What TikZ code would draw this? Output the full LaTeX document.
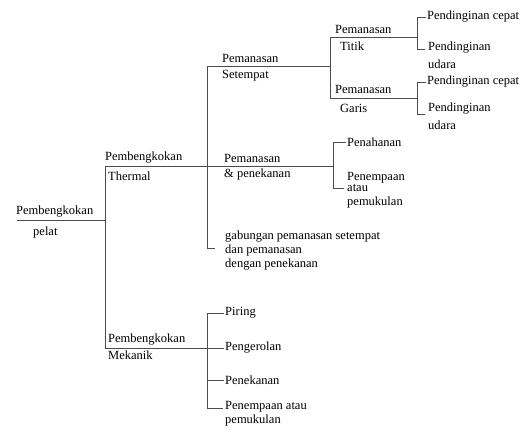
\documentclass[tikz,border=0pt]{standalone}
\usepackage{fontspec}
\setmainfont{Liberation Serif}
\usepackage{tikz}
\usetikzlibrary{positioning}

\begin{document}
\begin{tikzpicture}[
  x=1pt, y=-1pt,
  lab/.style={anchor=west, inner sep=1pt, align=left, font=\rmfamily\fontsize{12.5}{14}\selectfont},
  ln/.style={draw=black!70, line width=0.7pt}
]
  \useasboundingbox[fill=white] (0,0) rectangle (522,434);

  \node[lab] (rootA) at (15,212) {Pembengkokan};
  \node[lab] (rootB) at (32,232) {pelat};
  \node[lab] (thermA) at (104,158) {Pembengkokan};
  \node[lab] (thermB) at (107,176) {Thermal};
  \node[lab] (mekA) at (107,340) {Pembengkokan};
  \node[lab] (mekB) at (107,355) {Mekanik};

  \node[lab] (setA) at (221,58) {Pemanasan};
  \node[lab] (setB) at (221,76) {Setempat};
  \node[lab] (tekA) at (223,158) {Pemanasan};
  \node[lab] (tekB) at (223,174) {\& penekanan};
  \node[lab] (gabung) at (224,251) {gabungan pemanasan setempat\\dan pemanasan\\dengan penekanan};

  \node[lab] (titA) at (334,29) {Pemanasan};
  \node[lab] (titB) at (339,46) {Titik};
  \node[lab] (garA) at (334,89) {Pemanasan};
  \node[lab] (garB) at (339,108) {Garis};

  \node[lab] (cep1) at (426,17) {Pendinginan cepat};
  \node[lab] (uda1) at (427,55) {Pendinginan\\[4pt]udara};
  \node[lab] (cep2) at (426,82) {Pendinginan cepat};
  \node[lab] (uda2) at (427,116) {Pendinginan\\[4pt]udara};

  \node[lab] (tahan) at (346,142) {Penahanan};
  \node[lab] (tempa1) at (346,190) {Penempaan\\[-3pt]atau\\pemukulan};

  \node[lab] (piring) at (224,313) {Piring};
  \node[lab] (rol) at (224,348) {Pengerolan};
  \node[lab] (tekan) at (224,380) {Penekanan};
  \node[lab] (tempa2) at (224,414) {Penempaan atau\\pemukulan};

  \coordinate (r0) at (17,220);
  \coordinate (r1) at (105,220);
  \coordinate (t0) at (105,166);
  \coordinate (m0) at (105,348);
  \coordinate (s0) at (207,66);
  \coordinate (s1) at (330,66);
  \coordinate (g0) at (207,248);
  \coordinate (g1) at (215,248);
  \coordinate (k1) at (333,166);
  \coordinate (k3) at (344,188);
  \coordinate (ti0) at (330,37);
  \coordinate (ti1) at (417,37);
  \coordinate (ga0) at (330,98);
  \coordinate (ga1) at (417,98);
  \coordinate (u1) at (425,49);
  \coordinate (u2) at (425,114);
  \coordinate (m1) at (207,348);
  \coordinate (p4) at (223,408);

  \draw[ln] (r0) -- (r1);
  \draw[ln] (t0) -- (m0);
  \draw[ln] (t0) -- (k1);
  \draw[ln] (s0) -- (g0);
  \draw[ln] (s0) -- (s1);
  \draw[ln] (g0) -- (g1);
  \draw[ln] (ti0) -- (ga0);
  \draw[ln] (ti0) -- (ti1);
  \draw[ln] (ga0) -- (ga1);
  \draw[ln] (cep1.west) -| (ti1);
  \draw[ln] (u1) -| (ti1);
  \draw[ln] (cep2.west) -| (ga1);
  \draw[ln] (u2) -| (ga1);
  \draw[ln] (tahan.west) -| (k1);
  \draw[ln] (k3) -| (k1);
  \draw[ln] (m0) -- (rol.west);
  \draw[ln] (piring.west) -| (m1);
  \draw[ln] (p4) -| (m1);
  \draw[ln] (tekan.west) -- (tekan.west -| m1);
\end{tikzpicture}
\end{document}
